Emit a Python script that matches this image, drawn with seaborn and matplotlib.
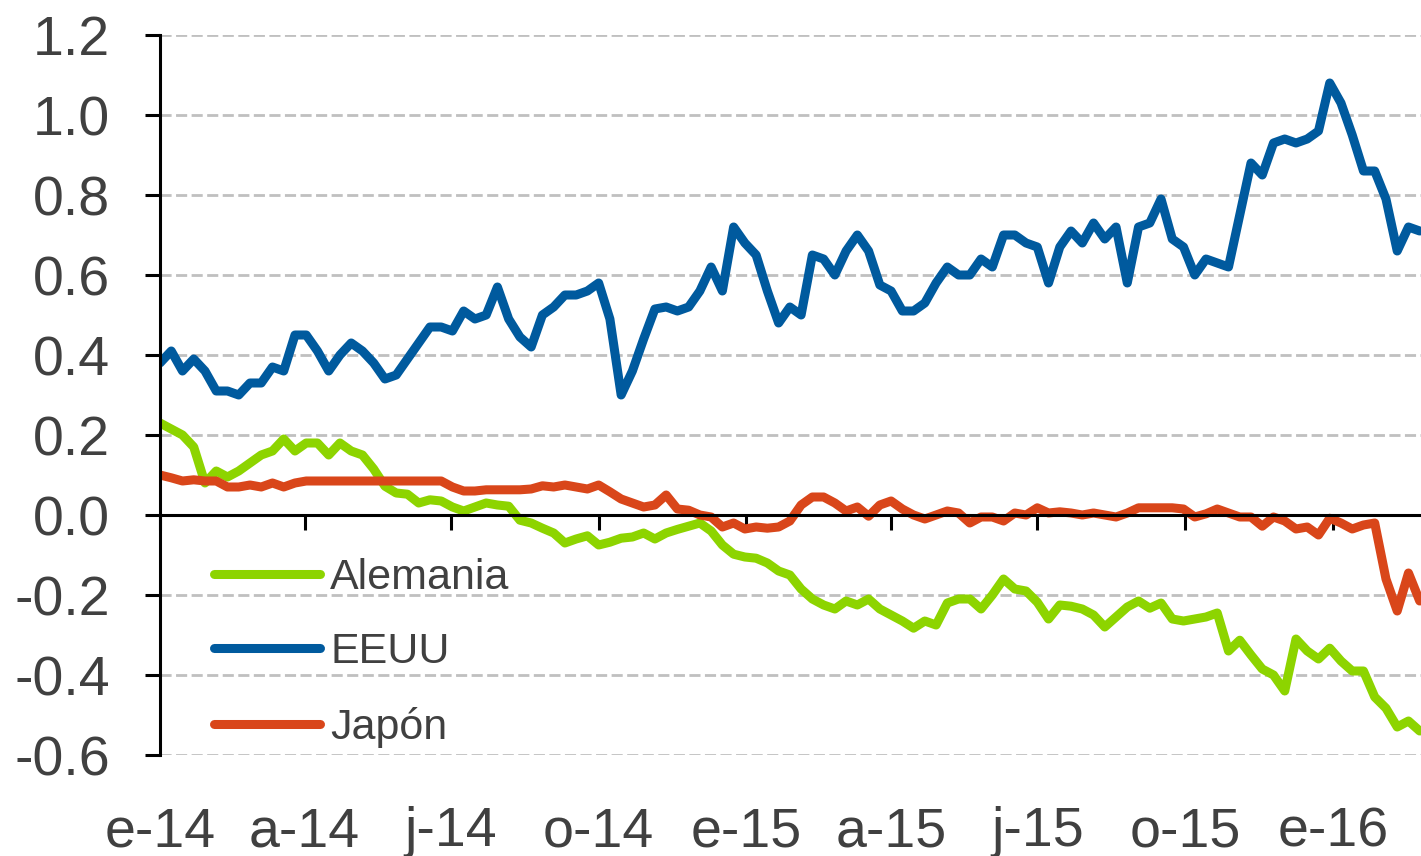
import numpy as np
import pandas as pd
import matplotlib
matplotlib.use("Agg")
import matplotlib.pyplot as plt
import matplotlib.dates as mdates
from matplotlib.ticker import FuncFormatter
import seaborn as sns

# Weekly observations, January 2014 to February 2016
fechas = pd.date_range("2014-01-01", periods=113, freq="7D")

series = ["Alemania", "EEUU", "Japón"]
colores = ["#8DD400", "#005A9E", "#D9461A"]

alemania = [
    0.23, 0.215, 0.20, 0.17, 0.08, 0.11, 0.095, 0.11, 0.13, 0.15,
    0.16, 0.19, 0.16, 0.18, 0.18, 0.15, 0.18, 0.16, 0.15, 0.115,
    0.072, 0.055, 0.052, 0.03, 0.038, 0.035, 0.02, 0.01, 0.02, 0.03,
    0.025, 0.022, -0.013, -0.02, -0.033, -0.045, -0.07, -0.06, -0.052, -0.075,
    -0.068, -0.058, -0.055, -0.045, -0.06, -0.045, -0.036, -0.028, -0.02, -0.04,
    -0.075, -0.098, -0.105, -0.108, -0.12, -0.14, -0.15, -0.185, -0.21, -0.225,
    -0.235, -0.215, -0.225, -0.21, -0.235, -0.25, -0.265, -0.283, -0.265, -0.275,
    -0.22, -0.21, -0.21, -0.235, -0.20, -0.16, -0.185, -0.19, -0.218, -0.26,
    -0.225, -0.228, -0.235, -0.25, -0.28, -0.255, -0.23, -0.215, -0.233, -0.22,
    -0.26, -0.265, -0.26, -0.255, -0.245, -0.34, -0.313, -0.35, -0.385, -0.40,
    -0.44, -0.31, -0.34, -0.36, -0.333, -0.365, -0.39, -0.39, -0.455, -0.483,
    -0.53, -0.515, -0.54,
]

eeuu = [
    0.38, 0.41, 0.36, 0.39, 0.36, 0.31, 0.31, 0.30, 0.33, 0.33,
    0.37, 0.36, 0.45, 0.45, 0.41, 0.36, 0.40, 0.43, 0.41, 0.38,
    0.34, 0.35, 0.39, 0.43, 0.47, 0.47, 0.46, 0.51, 0.49, 0.50,
    0.57, 0.49, 0.445, 0.42, 0.50, 0.52, 0.55, 0.55, 0.56, 0.58,
    0.49, 0.30, 0.36, 0.44, 0.515, 0.52, 0.51, 0.52, 0.56, 0.62,
    0.56, 0.72, 0.68, 0.65, 0.56, 0.48, 0.52, 0.50, 0.65, 0.64,
    0.60, 0.66, 0.70, 0.66, 0.575, 0.56, 0.51, 0.51, 0.53, 0.58,
    0.62, 0.60, 0.60, 0.64, 0.62, 0.70, 0.70, 0.68, 0.67, 0.58,
    0.67, 0.71, 0.68, 0.73, 0.69, 0.72, 0.58, 0.72, 0.73, 0.79,
    0.69, 0.67, 0.60, 0.64, 0.63, 0.62, 0.75, 0.88, 0.85, 0.93,
    0.94, 0.93, 0.94, 0.96, 1.08, 1.03, 0.95, 0.86, 0.86, 0.79,
    0.66, 0.72, 0.71,
]

japon = [
    0.10, 0.093, 0.085, 0.088, 0.085, 0.085, 0.07, 0.07, 0.075, 0.07,
    0.08, 0.07, 0.08, 0.085, 0.085, 0.085, 0.085, 0.085, 0.085, 0.085,
    0.085, 0.085, 0.085, 0.085, 0.085, 0.085, 0.07, 0.06, 0.06, 0.063,
    0.063, 0.063, 0.063, 0.065, 0.073, 0.07, 0.075, 0.07, 0.065, 0.075,
    0.058, 0.04, 0.03, 0.02, 0.025, 0.05, 0.015, 0.012, 0.0, -0.005,
    -0.03, -0.02, -0.035, -0.03, -0.033, -0.03, -0.015, 0.025, 0.045, 0.045,
    0.03, 0.01, 0.02, -0.003, 0.025, 0.035, 0.015, 0.0, -0.01, 0.0,
    0.01, 0.005, -0.02, -0.005, -0.005, -0.015, 0.005, 0.0, 0.018, 0.005,
    0.008, 0.005, 0.0, 0.005, 0.0, -0.005, 0.005, 0.018, 0.018, 0.018,
    0.018, 0.015, -0.005, 0.003, 0.015, 0.005, -0.005, -0.005, -0.028, -0.005,
    -0.015, -0.035, -0.03, -0.05, -0.008, -0.02, -0.035, -0.025, -0.02, -0.16,
    -0.24, -0.145, -0.215,
]

etiquetas_x = ["e-14", "a-14", "j-14", "o-14", "e-15", "a-15", "j-15", "o-15", "e-16"]
fechas_x = pd.date_range("2014-01-01", "2016-01-01", freq="QS")
ticks_y = np.round(np.arange(-0.6, 1.21, 0.2), 1)

sns.set_style("white")
plt.rcParams["font.family"] = ["Liberation Sans", "DejaVu Sans"]

texto = "#404040"

df = pd.DataFrame({
    "fecha": np.tile(fechas, len(series)),
    "valor": alemania + eeuu + japon,
    "serie": np.repeat(series, len(fechas)),
})

fig = plt.figure(figsize=(14.21, 8.56), dpi=100)
ax = fig.add_axes([160 / 1421, 101 / 856, 1261 / 1421, 720 / 856])

sns.lineplot(
    data=df, x="fecha", y="valor", hue="serie", hue_order=series,
    palette=colores, linewidth=6.5, ax=ax,
    solid_joinstyle="round", solid_capstyle="round",
)

inicio = pd.Timestamp("2014-01-01")
ax.set_xlim(inicio, inicio + pd.Timedelta(days=784.8))
ax.set_ylim(-0.6, 1.2)
ax.set_xlabel("")
ax.set_ylabel("")

# Horizontal dashed grid
ax.set_yticks(ticks_y)
ax.yaxis.set_major_formatter(FuncFormatter(lambda v, p: f"{v + 0:.1f}"))
ax.grid(axis="y", color="#c0c0c0", linewidth=2, linestyle=(0, (4, 1.6)))
ax.grid(axis="x", visible=False)
ax.set_axisbelow(True)

# Spines: left axis and the zero line carrying the quarterly ticks
for s in ["top", "right"]:
    ax.spines[s].set_visible(False)
ax.spines["left"].set_linewidth(2.2)
ax.spines["left"].set_color("black")
ax.spines["bottom"].set_position(("data", 0))
ax.spines["bottom"].set_linewidth(2.2)
ax.spines["bottom"].set_color("black")

ax.tick_params(axis="y", length=11, width=2.2, color="black", direction="out",
               pad=25, labelsize=40, labelcolor=texto, left=True)
ax.set_xticks(mdates.date2num(fechas_x))
ax.tick_params(axis="x", length=11, width=2.2, color="black", direction="out",
               labelbottom=False, bottom=True)

# Date labels along the bottom of the plot area
sec = ax.secondary_xaxis("bottom")
sec.set_xticks(mdates.date2num(fechas_x), etiquetas_x)
sec.tick_params(length=0, pad=37, labelsize=40, labelcolor=texto)
sec.spines["bottom"].set_visible(False)

sns.move_legend(
    ax, "upper left", bbox_to_anchor=(0.043, 0.274), title=None, frameon=False,
    fontsize=31, handlelength=2.45, handletextpad=0.24, labelspacing=0.8,
    borderaxespad=0, borderpad=0,
)
leg = ax.get_legend()
for t in leg.get_texts():
    t.set_color(texto)
for h in leg.get_lines():
    h.set_solid_capstyle("round")
    h.set_linewidth(6.5)

fig.savefig("out.png", dpi=100)
